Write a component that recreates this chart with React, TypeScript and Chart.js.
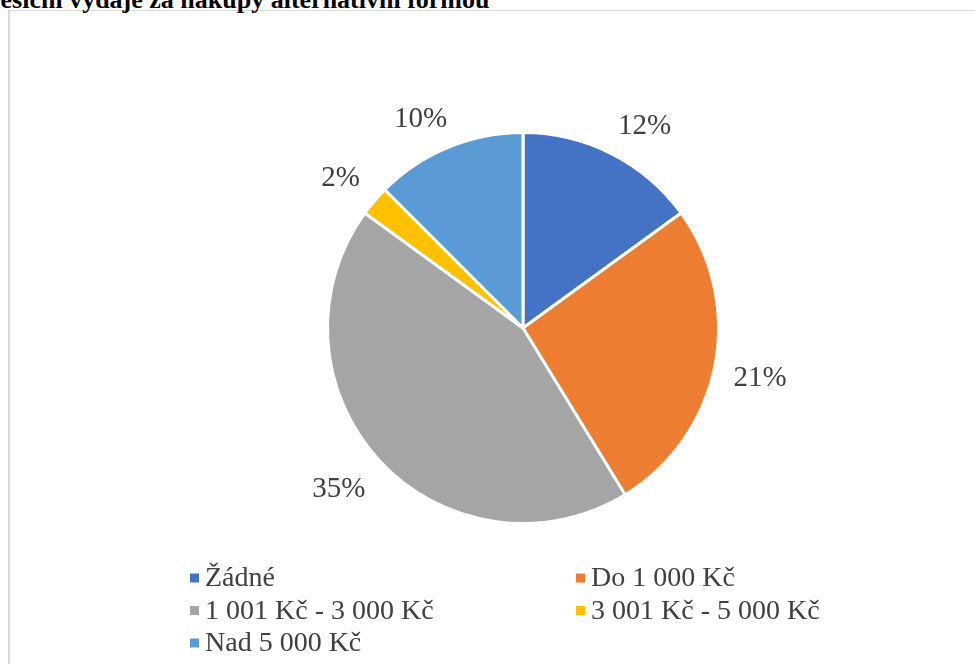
import React, { useEffect, useRef } from "react";
import { Chart, registerables } from "chart.js";

Chart.register(...registerables);

const TITLE = "Měsíční výdaje za nákupy alternativní formou";
const CATEGORIES = ["Žádné", "Do 1 000 Kč", "1 001 Kč - 3 000 Kč", "3 001 Kč - 5 000 Kč", "Nad 5 000 Kč"];
const VALUES = [12, 21, 35, 2, 10];
const COLORS = ["#4472C4", "#ED7D31", "#A5A5A5", "#FFC000", "#5B9BD5"];

const FONT = '"Liberation Serif", "Times New Roman", serif';
const TEXT_COLOR = "#404040";
const LABEL_SIZE = 29;
const LEGEND_SIZE = 28;

const outLabels = {
  id: "outLabels",
  afterDatasetsDraw(chart: any) {
    const ctx = chart.ctx;
    const meta = chart.getDatasetMeta(0);
    const vals = chart.data.datasets[0].data;
    ctx.save();
    ctx.font = `${LABEL_SIZE}px ${FONT}`;
    ctx.fillStyle = TEXT_COLOR;
    ctx.textAlign = "center";
    ctx.textBaseline = "middle";
    meta.data.forEach((arc: any, i: number) => {
      const p = arc.getProps(["x", "y", "startAngle", "endAngle", "outerRadius"], true);
      const mid = (p.startAngle + p.endAngle) / 2;
      const txt = vals[i] + "%";
      const hw = ctx.measureText(txt).width / 2;
      const hh = LABEL_SIZE * 0.45;
      const c = Math.cos(mid), s = Math.sin(mid);
      const r = p.outerRadius + 19;
      const px = p.x + c * r, py = p.y + s * r;
      const ox = hw * Math.sign(c) * Math.min(1, Math.abs(c) * 2);
      const oy = hh * Math.sign(s) * Math.min(1, Math.abs(s) * 2);
      ctx.fillText(txt, px + ox, py + oy + 3);
    });
    ctx.restore();
  },
};

const gridLegend = {
  id: "gridLegend",
  afterDraw(chart: any) {
    const ctx = chart.ctx;
    const labels = chart.data.labels;
    const colors = chart.data.datasets[0].backgroundColor;
    const left = 190, colW = 386, top = 578, rowH = 32.5, box = 9;
    ctx.save();
    ctx.font = `${LEGEND_SIZE}px ${FONT}`;
    ctx.textBaseline = "middle";
    ctx.textAlign = "left";
    labels.forEach((lab: string, i: number) => {
      const col = i % 2, row = Math.floor(i / 2);
      const x = left + col * colW;
      const y = top + row * rowH;
      ctx.fillStyle = colors[i];
      ctx.fillRect(x, y - box / 2, box, box);
      ctx.fillStyle = TEXT_COLOR;
      ctx.fillText(lab, x + 15, y + 1);
    });
    ctx.restore();
  },
};

export default function App() {
  const ref = useRef<HTMLCanvasElement | null>(null);
  useEffect(() => {
    if (!ref.current) return;
    const chart = new Chart(ref.current, {
      type: "pie",
      data: {
        labels: CATEGORIES,
        datasets: [
          {
            data: VALUES,
            backgroundColor: COLORS,
            borderColor: "#ffffff",
            borderWidth: 3,
          },
        ],
      },
      options: {
        responsive: false,
        animation: false,
        layout: { padding: { left: 326, right: 255, top: 131, bottom: 139 } },
        plugins: { legend: { display: false }, tooltip: { enabled: false } },
      },
      plugins: [outLabels, gridLegend],
    });
    return () => chart.destroy();
  }, []);

  return (
    <div style={{ position: "fixed", left: 0, top: 0, width: 975, height: 664, overflow: "hidden", background: "#fff" }}>
      <div
        style={{
          position: "absolute",
          left: 8,
          top: 10,
          width: 1200,
          height: 900,
          borderLeft: "2px solid #d9d9d9",
          borderTop: "1px solid #d9d9d9",
        }}
      />
      <div
        style={{
          position: "absolute",
          left: -24,
          top: -13,
          font: `bold 26px ${FONT}`,
          lineHeight: "26px",
          whiteSpace: "nowrap",
          color: "#000",
        }}
      >
        {TITLE}
      </div>
      <canvas ref={ref} width={975} height={664} style={{ position: "absolute", left: 0, top: 0 }} />
    </div>
  );
}
